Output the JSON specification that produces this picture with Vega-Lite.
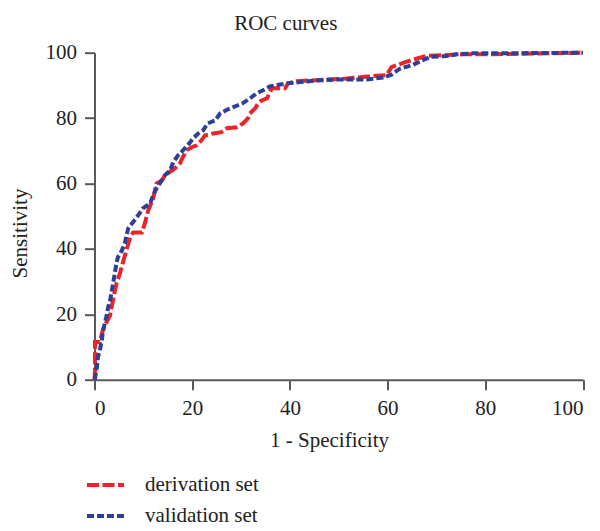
{
  "$schema": "https://vega.github.io/schema/vega-lite/v6.json",
  "width": 488.5,
  "height": 327,
  "autosize": "none",
  "padding": {"left": 94.5, "top": 52.7, "right": 17, "bottom": 151.3},
  "title": {"text": "ROC curves", "font": "Liberation Serif", "fontSize": 21, "fontWeight": "normal", "color": "#222222", "anchor": "middle", "frame": "group", "dx": -53, "offset": -9, "baseline": "alphabetic"},
  "data": {"values": [
    {"s": "derivation set", "x": 0, "y": 0},
    {"s": "derivation set", "x": 0.1, "y": 2.8},
    {"s": "derivation set", "x": 0.1, "y": 9.9},
    {"s": "derivation set", "x": 0.1, "y": 11.5},
    {"s": "derivation set", "x": 1.1, "y": 11.5},
    {"s": "derivation set", "x": 1.7, "y": 15.1},
    {"s": "derivation set", "x": 2.1, "y": 16.6},
    {"s": "derivation set", "x": 3.2, "y": 19.7},
    {"s": "derivation set", "x": 3.5, "y": 22.2},
    {"s": "derivation set", "x": 4.2, "y": 27.3},
    {"s": "derivation set", "x": 4.5, "y": 29.4},
    {"s": "derivation set", "x": 5.2, "y": 32.5},
    {"s": "derivation set", "x": 5.8, "y": 35.8},
    {"s": "derivation set", "x": 6.4, "y": 38.9},
    {"s": "derivation set", "x": 7.3, "y": 43.5},
    {"s": "derivation set", "x": 7.9, "y": 45.0},
    {"s": "derivation set", "x": 9.7, "y": 45.0},
    {"s": "derivation set", "x": 10.3, "y": 47.8},
    {"s": "derivation set", "x": 11.0, "y": 51.8},
    {"s": "derivation set", "x": 12.0, "y": 55.4},
    {"s": "derivation set", "x": 12.7, "y": 60.0},
    {"s": "derivation set", "x": 13.8, "y": 60.9},
    {"s": "derivation set", "x": 14.4, "y": 62.5},
    {"s": "derivation set", "x": 16.5, "y": 64.7},
    {"s": "derivation set", "x": 17.5, "y": 66.2},
    {"s": "derivation set", "x": 18.1, "y": 68.1},
    {"s": "derivation set", "x": 18.9, "y": 70.2},
    {"s": "derivation set", "x": 19.9, "y": 71.1},
    {"s": "derivation set", "x": 20.9, "y": 71.7},
    {"s": "derivation set", "x": 21.9, "y": 73.2},
    {"s": "derivation set", "x": 22.6, "y": 74.7},
    {"s": "derivation set", "x": 24.3, "y": 75.3},
    {"s": "derivation set", "x": 26.0, "y": 75.7},
    {"s": "derivation set", "x": 27.1, "y": 76.9},
    {"s": "derivation set", "x": 29.1, "y": 77.2},
    {"s": "derivation set", "x": 30.4, "y": 78.4},
    {"s": "derivation set", "x": 31.4, "y": 79.9},
    {"s": "derivation set", "x": 31.8, "y": 81.4},
    {"s": "derivation set", "x": 32.9, "y": 83.0},
    {"s": "derivation set", "x": 33.5, "y": 84.5},
    {"s": "derivation set", "x": 34.2, "y": 85.4},
    {"s": "derivation set", "x": 35.3, "y": 86.0},
    {"s": "derivation set", "x": 35.9, "y": 87.9},
    {"s": "derivation set", "x": 36.3, "y": 89.1},
    {"s": "derivation set", "x": 39.0, "y": 89.1},
    {"s": "derivation set", "x": 39.6, "y": 90.6},
    {"s": "derivation set", "x": 41.4, "y": 91.3},
    {"s": "derivation set", "x": 44.1, "y": 91.5},
    {"s": "derivation set", "x": 51.6, "y": 92.1},
    {"s": "derivation set", "x": 56.4, "y": 92.8},
    {"s": "derivation set", "x": 59.8, "y": 93.1},
    {"s": "derivation set", "x": 60.8, "y": 95.6},
    {"s": "derivation set", "x": 63.6, "y": 97.1},
    {"s": "derivation set", "x": 66.2, "y": 98.3},
    {"s": "derivation set", "x": 68.0, "y": 99.0},
    {"s": "derivation set", "x": 75.4, "y": 99.5},
    {"s": "derivation set", "x": 79.5, "y": 99.5},
    {"s": "derivation set", "x": 100, "y": 100},
    {"s": "validation set", "x": 0, "y": 0},
    {"s": "validation set", "x": 0.1, "y": 0.4},
    {"s": "validation set", "x": 0.5, "y": 3.9},
    {"s": "validation set", "x": 0.7, "y": 6.9},
    {"s": "validation set", "x": 1.1, "y": 9.0},
    {"s": "validation set", "x": 1.5, "y": 12.0},
    {"s": "validation set", "x": 1.7, "y": 14.6},
    {"s": "validation set", "x": 2.1, "y": 17.2},
    {"s": "validation set", "x": 2.5, "y": 19.7},
    {"s": "validation set", "x": 2.8, "y": 22.2},
    {"s": "validation set", "x": 3.2, "y": 24.3},
    {"s": "validation set", "x": 3.5, "y": 26.8},
    {"s": "validation set", "x": 3.8, "y": 29.4},
    {"s": "validation set", "x": 4.2, "y": 32.9},
    {"s": "validation set", "x": 4.5, "y": 35.6},
    {"s": "validation set", "x": 4.8, "y": 37.5},
    {"s": "validation set", "x": 5.6, "y": 39.5},
    {"s": "validation set", "x": 6.2, "y": 41.7},
    {"s": "validation set", "x": 6.9, "y": 46.3},
    {"s": "validation set", "x": 7.9, "y": 48.2},
    {"s": "validation set", "x": 8.9, "y": 50.2},
    {"s": "validation set", "x": 9.9, "y": 52.4},
    {"s": "validation set", "x": 11.4, "y": 53.9},
    {"s": "validation set", "x": 12.0, "y": 56.4},
    {"s": "validation set", "x": 12.7, "y": 58.5},
    {"s": "validation set", "x": 13.4, "y": 60.1},
    {"s": "validation set", "x": 14.4, "y": 62.5},
    {"s": "validation set", "x": 15.5, "y": 64.0},
    {"s": "validation set", "x": 16.1, "y": 66.5},
    {"s": "validation set", "x": 17.1, "y": 68.6},
    {"s": "validation set", "x": 18.1, "y": 70.1},
    {"s": "validation set", "x": 19.1, "y": 71.7},
    {"s": "validation set", "x": 20.2, "y": 73.8},
    {"s": "validation set", "x": 21.2, "y": 75.3},
    {"s": "validation set", "x": 22.2, "y": 76.2},
    {"s": "validation set", "x": 23.2, "y": 78.4},
    {"s": "validation set", "x": 24.7, "y": 79.3},
    {"s": "validation set", "x": 25.7, "y": 81.4},
    {"s": "validation set", "x": 27.3, "y": 82.7},
    {"s": "validation set", "x": 28.8, "y": 83.6},
    {"s": "validation set", "x": 30.4, "y": 84.6},
    {"s": "validation set", "x": 31.8, "y": 86.0},
    {"s": "validation set", "x": 33.2, "y": 87.6},
    {"s": "validation set", "x": 34.5, "y": 88.5},
    {"s": "validation set", "x": 35.9, "y": 89.7},
    {"s": "validation set", "x": 38.0, "y": 90.3},
    {"s": "validation set", "x": 40.0, "y": 90.7},
    {"s": "validation set", "x": 42.1, "y": 91.0},
    {"s": "validation set", "x": 45.5, "y": 91.5},
    {"s": "validation set", "x": 49.6, "y": 91.8},
    {"s": "validation set", "x": 55.7, "y": 91.8},
    {"s": "validation set", "x": 59.1, "y": 92.4},
    {"s": "validation set", "x": 60.8, "y": 93.3},
    {"s": "validation set", "x": 62.5, "y": 95.1},
    {"s": "validation set", "x": 65.2, "y": 96.3},
    {"s": "validation set", "x": 67.0, "y": 97.6},
    {"s": "validation set", "x": 68.7, "y": 98.7},
    {"s": "validation set", "x": 72.1, "y": 99.0},
    {"s": "validation set", "x": 74.1, "y": 99.5},
    {"s": "validation set", "x": 77.5, "y": 99.8},
    {"s": "validation set", "x": 82.3, "y": 99.8},
    {"s": "validation set", "x": 100, "y": 100}
  ]},
  "mark": {"type": "line", "strokeWidth": 4, "strokeCap": "butt", "strokeJoin": "miter", "clip": false},
  "encoding": {
    "x": {"field": "x", "type": "quantitative", "scale": {"domain": [0, 100], "nice": false},
      "axis": {"values": [0, 20, 40, 60, 80, 100], "title": "1 - Specificity", "titleX": 234.5, "titleY": 61, "titleBaseline": "middle", "labelPadding": 8}},
    "y": {"field": "y", "type": "quantitative", "scale": {"domain": [0, 100], "nice": false},
      "axis": {"values": [0, 20, 40, 60, 80, 100], "title": "Sensitivity", "titleX": -74.5, "titleY": 180.3, "titleAngle": -90, "titleBaseline": "middle", "titleAlign": "center", "labelPadding": 8}},
    "color": {"field": "s", "type": "nominal", "scale": {"domain": ["derivation set", "validation set"], "range": ["#ec2429", "#2d3f99"]},
      "legend": {"title": null, "orient": "none", "legendX": -9.5, "legendY": 411.8}},
    "strokeDash": {"field": "s", "type": "nominal", "scale": {"domain": ["derivation set", "validation set"], "range": [[12, 3.5], [7, 3]]},
      "legend": {"title": null, "orient": "none", "legendX": -9.5, "legendY": 411.8}},
    "order": [{"field": "x", "type": "quantitative"}, {"field": "y", "type": "quantitative"}]
  },
  "config": {
    "view": {"stroke": null},
    "axis": {"grid": false, "domainColor": "#595959", "domainWidth": 2, "tickColor": "#595959", "tickWidth": 2, "tickSize": 10,
      "labelFont": "Liberation Serif", "labelFontSize": 21, "labelColor": "#222222",
      "titleFont": "Liberation Serif", "titleFontSize": 21, "titleFontWeight": "normal", "titleColor": "#222222"},
    "legend": {"padding": 0, "symbolType": "stroke", "symbolSize": 1369, "symbolStrokeWidth": 4, "labelFont": "Liberation Serif", "labelFontSize": 21, "labelColor": "#222222", "labelOffset": 19, "rowPadding": -3}
  }
}
